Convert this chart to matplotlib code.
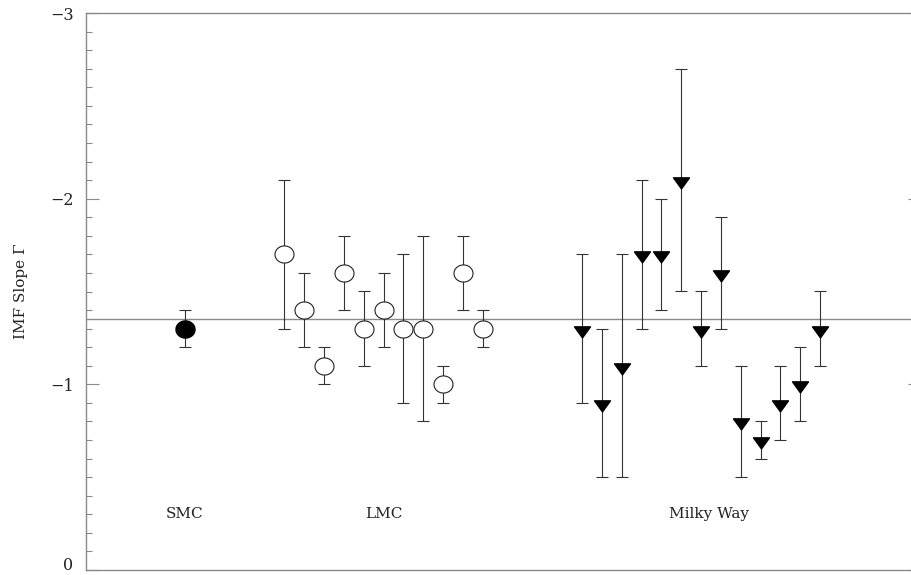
import numpy as np
import matplotlib
matplotlib.use("Agg")
import matplotlib.pyplot as plt
from matplotlib.path import Path
from matplotlib.transforms import ScaledTranslation

# SMC
smc_x = [0]
smc_y = [-1.3]
smc_err = [0.1]

# LMC clusters
lmc_x = list(range(5, 16))
lmc_y = [-1.7, -1.4, -1.1, -1.6, -1.3, -1.4, -1.3, -1.3, -1.0, -1.6, -1.3]
lmc_err = [0.4, 0.2, 0.1, 0.2, 0.2, 0.2, 0.4, 0.5, 0.1, 0.2, 0.1]

# Milky Way clusters
mw_x = list(range(20, 33))
mw_y = [-1.3, -0.9, -1.1, -1.7, -1.7, -2.1, -1.3, -1.6, -0.8, -0.7, -0.9, -1.0, -1.3]
mw_err = [0.4, 0.4, 0.6, 0.4, 0.3, 0.6, 0.2, 0.3, 0.3, 0.1, 0.2, 0.2, 0.2]

salpeter = -1.35
region_names = ["SMC", "LMC", "Milky Way"]
region_x = [0, 10, 26.4]
region_y = -0.30

W, H = 911, 575
fig = plt.figure(figsize=(W / 100, H / 100), dpi=100)
ax = fig.add_axes([86 / W, 5 / H, (921 - 86) / W, (570 - 13) / H])

gray = "#8a8a8a"
ecol = "#333333"

t = np.linspace(0, 2 * np.pi, 60)
ellipse = Path(np.column_stack([np.cos(t), 0.9 * np.sin(t)]))
tri = Path([(-1, 0.33), (1, 0.33), (0, -1.05), (-1, 0.33)],
           [Path.MOVETO, Path.LINETO, Path.LINETO, Path.CLOSEPOLY])

ax.axhline(salpeter, color=gray, lw=1.0, zorder=1)

for xs, ys, es in [(smc_x, smc_y, smc_err), (lmc_x, lmc_y, lmc_err), (mw_x, mw_y, mw_err)]:
    ax.errorbar(xs, ys, yerr=es, fmt="none", ecolor=ecol, elinewidth=0.8,
                capsize=4.3, capthick=0.8, zorder=2)

ax.plot(smc_x, smc_y, ls="none", marker=ellipse, ms=13.7, mfc="black",
        mec="black", zorder=3)
ax.plot(lmc_x, lmc_y, ls="none", marker=ellipse, ms=13.7, mfc="white",
        mec="#222222", mew=0.8, zorder=3)
ax.plot(mw_x, mw_y, ls="none", marker=tri, ms=12.1, mfc="black",
        mec="black", zorder=3)

for name, xx in zip(region_names, region_x):
    ax.text(xx, region_y, name, ha="center", va="center", fontsize=11,
            family="DejaVu Serif", color="#222222")

ax.set_xlim(-4.99, 37.08)
ax.set_ylim(0, -3)
ax.set_xticks([])
ax.set_yticks([0, -1, -2, -3])
ax.set_yticklabels(["0", "\u22121", "\u22122", "\u22123"], family="DejaVu Serif",
                   fontsize=11.5, color="#222222")
ax.set_yticks(np.arange(-3, 0.001, 0.1), minor=True)
ax.tick_params(axis="y", which="major", direction="in", length=9.4, width=0.8,
               color=gray, pad=9, right=True)
ax.tick_params(axis="y", which="minor", direction="in", length=4.3, width=0.8,
               color=gray, right=True)
for s in ax.spines.values():
    s.set_color(gray)
    s.set_linewidth(1.0)

# lift the "0" label a little so it stays inside the figure
lab0 = ax.get_yticklabels()[0]
lab0.set_transform(lab0.get_transform() + ScaledTranslation(0, 6 / 100, fig.dpi_scale_trans))

ax.set_ylabel("IMF Slope \u0393", family="DejaVu Serif", fontsize=11,
              color="#222222", labelpad=16)

fig.savefig("out.png", dpi=100)
